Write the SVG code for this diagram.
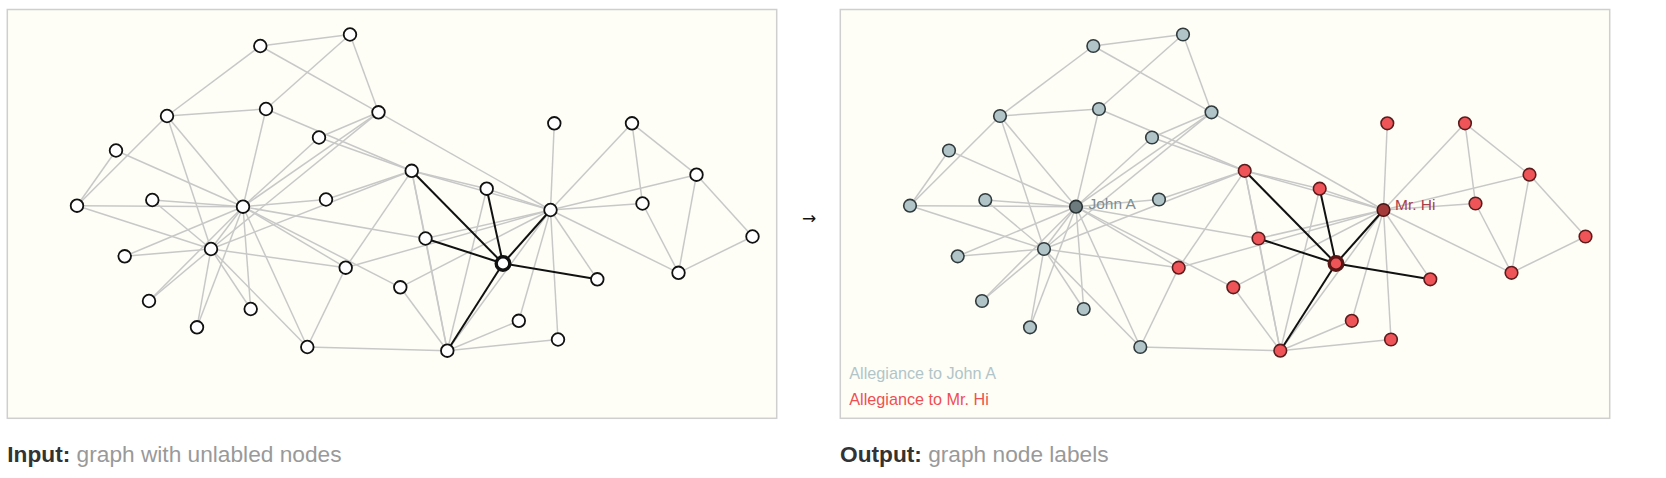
<svg xmlns="http://www.w3.org/2000/svg" width="1666" height="478" viewBox="0 0 1666 478">
<style>
.panel{fill:#fefef7;stroke:#cfcfcf;stroke-width:1.5}
.e line{stroke:#c8c8c8;stroke-width:1.5}
.e line.b{stroke:#111;stroke-width:2}
.in circle{fill:#fff;stroke:#111;stroke-width:1.8}
.in .hl circle{stroke-width:3.4}
.out .blue circle{fill:#b1c5c9;stroke:#313b3d;stroke-width:1.6}
.out .john circle{fill:#6d7b7e;stroke:#2a3234;stroke-width:1.6}
.out .red circle{fill:#ef5558;stroke:#5a1d1d;stroke-width:1.6}
.out .hi circle{fill:#a53a3b;stroke:#4a1515;stroke-width:1.6}
.out .red.hl circle{stroke:#5a1515;stroke-width:3.4}
text{font-family:"Liberation Sans",Arial,sans-serif}
.cap{font-size:22.7px;fill:#999}
.cap tspan.k{font-weight:bold;fill:#333}
.lbl{font-size:15.5px}
.leg{font-size:16.2px}
</style>
<rect class="panel" x="7.3" y="9.5" width="769.4" height="408.8"/>
<rect class="panel" x="840.3" y="9.5" width="769.4" height="408.8"/>
<text x="809" y="224" font-size="17" text-anchor="middle" fill="#111" style="font-family:'DejaVu Sans',sans-serif">→</text>

<g id="input-panel" class="in">
<g id="in-connectors" class="e">
<line x1="550.5" y1="210" x2="447.3" y2="350.7"/>
<line x1="550.5" y1="210" x2="411.7" y2="170.8"/>
<line x1="550.5" y1="210" x2="632" y2="123.3"/>
<line x1="550.5" y1="210" x2="678.5" y2="272.8"/>
<line x1="550.5" y1="210" x2="696.5" y2="174.7"/>
<line x1="550.5" y1="210" x2="642.5" y2="203.5"/>
<line x1="550.5" y1="210" x2="486.7" y2="188.7"/>
<line x1="550.5" y1="210" x2="345.7" y2="267.7"/>
<line x1="550.5" y1="210" x2="554.3" y2="123.3"/>
<line x1="550.5" y1="210" x2="597.3" y2="279.3"/>
<line x1="550.5" y1="210" x2="425.5" y2="238.5"/>
<line x1="550.5" y1="210" x2="518.8" y2="320.8"/>
<line x1="550.5" y1="210" x2="400.3" y2="287.3"/>
<line x1="550.5" y1="210" x2="558" y2="339.5"/>
<line x1="550.5" y1="210" x2="378.5" y2="112.3"/>
<line x1="447.3" y1="350.7" x2="411.7" y2="170.8"/>
<line x1="447.3" y1="350.7" x2="486.7" y2="188.7"/>
<line x1="447.3" y1="350.7" x2="425.5" y2="238.5"/>
<line x1="447.3" y1="350.7" x2="518.8" y2="320.8"/>
<line x1="447.3" y1="350.7" x2="400.3" y2="287.3"/>
<line x1="447.3" y1="350.7" x2="558" y2="339.5"/>
<line x1="447.3" y1="350.7" x2="307.3" y2="347"/>
<line x1="411.7" y1="170.8" x2="486.7" y2="188.7"/>
<line x1="411.7" y1="170.8" x2="345.7" y2="267.7"/>
<line x1="411.7" y1="170.8" x2="326" y2="199.5"/>
<line x1="411.7" y1="170.8" x2="425.5" y2="238.5"/>
<line x1="411.7" y1="170.8" x2="266" y2="109"/>
<line x1="411.7" y1="170.8" x2="319" y2="137.5"/>
<line x1="411.7" y1="170.8" x2="211" y2="249"/>
<line x1="425.5" y1="238.5" x2="243" y2="206.7"/>
<line x1="632" y1="123.3" x2="696.5" y2="174.7"/>
<line x1="632" y1="123.3" x2="642.5" y2="203.5"/>
<line x1="696.5" y1="174.7" x2="678.5" y2="272.8"/>
<line x1="696.5" y1="174.7" x2="752.5" y2="236.5"/>
<line x1="642.5" y1="203.5" x2="678.5" y2="272.8"/>
<line x1="678.5" y1="272.8" x2="752.5" y2="236.5"/>
<line x1="345.7" y1="267.7" x2="307.3" y2="347"/>
<line x1="345.7" y1="267.7" x2="211" y2="249"/>
<line x1="345.7" y1="267.7" x2="243" y2="206.7"/>
<line x1="400.3" y1="287.3" x2="243" y2="206.7"/>
<line x1="378.5" y1="112.3" x2="350" y2="34.5"/>
<line x1="378.5" y1="112.3" x2="260.3" y2="46"/>
<line x1="378.5" y1="112.3" x2="319" y2="137.5"/>
<line x1="378.5" y1="112.3" x2="211" y2="249"/>
<line x1="378.5" y1="112.3" x2="243" y2="206.7"/>
<line x1="350" y1="34.5" x2="260.3" y2="46"/>
<line x1="350" y1="34.5" x2="266" y2="109"/>
<line x1="260.3" y1="46" x2="167" y2="116"/>
<line x1="167" y1="116" x2="266" y2="109"/>
<line x1="167" y1="116" x2="77" y2="205.7"/>
<line x1="167" y1="116" x2="211" y2="249"/>
<line x1="167" y1="116" x2="243" y2="206.7"/>
<line x1="266" y1="109" x2="243" y2="206.7"/>
<line x1="319" y1="137.5" x2="243" y2="206.7"/>
<line x1="77" y1="205.7" x2="116" y2="150.5"/>
<line x1="77" y1="205.7" x2="211" y2="249"/>
<line x1="77" y1="205.7" x2="243" y2="206.7"/>
<line x1="116" y1="150.5" x2="243" y2="206.7"/>
<line x1="326" y1="199.5" x2="243" y2="206.7"/>
<line x1="307.3" y1="347" x2="211" y2="249"/>
<line x1="307.3" y1="347" x2="243" y2="206.7"/>
<line x1="152.3" y1="200" x2="211" y2="249"/>
<line x1="152.3" y1="200" x2="243" y2="206.7"/>
<line x1="124.7" y1="256.3" x2="211" y2="249"/>
<line x1="124.7" y1="256.3" x2="243" y2="206.7"/>
<line x1="149" y1="301" x2="211" y2="249"/>
<line x1="149" y1="301" x2="243" y2="206.7"/>
<line x1="250.7" y1="309" x2="211" y2="249"/>
<line x1="250.7" y1="309" x2="243" y2="206.7"/>
<line x1="197" y1="327.3" x2="211" y2="249"/>
<line x1="197" y1="327.3" x2="243" y2="206.7"/>
<line x1="211" y1="249" x2="243" y2="206.7"/>
<line class="b" x1="503" y1="263.5" x2="550.5" y2="210"/>
<line class="b" x1="503" y1="263.5" x2="447.3" y2="350.7"/>
<line class="b" x1="503" y1="263.5" x2="411.7" y2="170.8"/>
<line class="b" x1="503" y1="263.5" x2="486.7" y2="188.7"/>
<line class="b" x1="503" y1="263.5" x2="597.3" y2="279.3"/>
<line class="b" x1="503" y1="263.5" x2="425.5" y2="238.5"/>
</g>
<g id="in-n24"><circle cx="350" cy="34.5" r="6.3"/></g>
<g id="in-n25"><circle cx="260.3" cy="46" r="6.3"/></g>
<g id="in-n23"><circle cx="167" cy="116" r="6.3"/></g>
<g id="in-n27"><circle cx="266" cy="109" r="6.3"/></g>
<g id="in-n31"><circle cx="378.5" cy="112.3" r="6.3"/></g>
<g id="in-n26"><circle cx="116" cy="150.5" r="6.3"/></g>
<g id="in-n28"><circle cx="319" cy="137.5" r="6.3"/></g>
<g id="in-n2"><circle cx="411.7" cy="170.8" r="6.3"/></g>
<g id="in-n29"><circle cx="77" cy="205.7" r="6.3"/></g>
<g id="in-n14"><circle cx="152.3" cy="200" r="6.3"/></g>
<g id="in-n33"><circle cx="243" cy="206.7" r="6.3"/></g>
<g id="in-n9"><circle cx="326" cy="199.5" r="6.3"/></g>
<g id="in-n11"><circle cx="554.3" cy="123.3" r="6.3"/></g>
<g id="in-n4"><circle cx="632" cy="123.3" r="6.3"/></g>
<g id="in-n7"><circle cx="486.7" cy="188.7" r="6.3"/></g>
<g id="in-n0"><circle cx="550.5" cy="210" r="6.3"/></g>
<g id="in-n10"><circle cx="642.5" cy="203.5" r="6.3"/></g>
<g id="in-n6"><circle cx="696.5" cy="174.7" r="6.3"/></g>
<g id="in-n16"><circle cx="752.5" cy="236.5" r="6.3"/></g>
<g id="in-n13"><circle cx="425.5" cy="238.5" r="6.3"/></g>
<g id="in-n15"><circle cx="124.7" cy="256.3" r="6.3"/></g>
<g id="in-n32"><circle cx="211" cy="249" r="6.3"/></g>
<g id="in-n8"><circle cx="345.7" cy="267.7" r="6.3"/></g>
<g id="in-n19"><circle cx="400.3" cy="287.3" r="6.3"/></g>
<g id="in-n18"><circle cx="149" cy="301" r="6.3"/></g>
<g id="in-n20"><circle cx="250.7" cy="309" r="6.3"/></g>
<g id="in-n22"><circle cx="197" cy="327.3" r="6.3"/></g>
<g id="in-n30"><circle cx="307.3" cy="347" r="6.3"/></g>
<g id="in-n3" class="hl"><circle cx="503" cy="263.5" r="6.8"/></g>
<g id="in-n12"><circle cx="597.3" cy="279.3" r="6.3"/></g>
<g id="in-n5"><circle cx="678.5" cy="272.8" r="6.3"/></g>
<g id="in-n17"><circle cx="518.8" cy="320.8" r="6.3"/></g>
<g id="in-n21"><circle cx="558" cy="339.5" r="6.3"/></g>
<g id="in-n1"><circle cx="447.3" cy="350.7" r="6.3"/></g>
</g>

<g id="output-panel" class="out" transform="translate(833,0)">
<g id="out-connectors" class="e">
<line x1="550.5" y1="210" x2="447.3" y2="350.7"/>
<line x1="550.5" y1="210" x2="411.7" y2="170.8"/>
<line x1="550.5" y1="210" x2="632" y2="123.3"/>
<line x1="550.5" y1="210" x2="678.5" y2="272.8"/>
<line x1="550.5" y1="210" x2="696.5" y2="174.7"/>
<line x1="550.5" y1="210" x2="642.5" y2="203.5"/>
<line x1="550.5" y1="210" x2="486.7" y2="188.7"/>
<line x1="550.5" y1="210" x2="345.7" y2="267.7"/>
<line x1="550.5" y1="210" x2="554.3" y2="123.3"/>
<line x1="550.5" y1="210" x2="597.3" y2="279.3"/>
<line x1="550.5" y1="210" x2="425.5" y2="238.5"/>
<line x1="550.5" y1="210" x2="518.8" y2="320.8"/>
<line x1="550.5" y1="210" x2="400.3" y2="287.3"/>
<line x1="550.5" y1="210" x2="558" y2="339.5"/>
<line x1="550.5" y1="210" x2="378.5" y2="112.3"/>
<line x1="447.3" y1="350.7" x2="411.7" y2="170.8"/>
<line x1="447.3" y1="350.7" x2="486.7" y2="188.7"/>
<line x1="447.3" y1="350.7" x2="425.5" y2="238.5"/>
<line x1="447.3" y1="350.7" x2="518.8" y2="320.8"/>
<line x1="447.3" y1="350.7" x2="400.3" y2="287.3"/>
<line x1="447.3" y1="350.7" x2="558" y2="339.5"/>
<line x1="447.3" y1="350.7" x2="307.3" y2="347"/>
<line x1="411.7" y1="170.8" x2="486.7" y2="188.7"/>
<line x1="411.7" y1="170.8" x2="345.7" y2="267.7"/>
<line x1="411.7" y1="170.8" x2="326" y2="199.5"/>
<line x1="411.7" y1="170.8" x2="425.5" y2="238.5"/>
<line x1="411.7" y1="170.8" x2="266" y2="109"/>
<line x1="411.7" y1="170.8" x2="319" y2="137.5"/>
<line x1="411.7" y1="170.8" x2="211" y2="249"/>
<line x1="425.5" y1="238.5" x2="243" y2="206.7"/>
<line x1="632" y1="123.3" x2="696.5" y2="174.7"/>
<line x1="632" y1="123.3" x2="642.5" y2="203.5"/>
<line x1="696.5" y1="174.7" x2="678.5" y2="272.8"/>
<line x1="696.5" y1="174.7" x2="752.5" y2="236.5"/>
<line x1="642.5" y1="203.5" x2="678.5" y2="272.8"/>
<line x1="678.5" y1="272.8" x2="752.5" y2="236.5"/>
<line x1="345.7" y1="267.7" x2="307.3" y2="347"/>
<line x1="345.7" y1="267.7" x2="211" y2="249"/>
<line x1="345.7" y1="267.7" x2="243" y2="206.7"/>
<line x1="400.3" y1="287.3" x2="243" y2="206.7"/>
<line x1="378.5" y1="112.3" x2="350" y2="34.5"/>
<line x1="378.5" y1="112.3" x2="260.3" y2="46"/>
<line x1="378.5" y1="112.3" x2="319" y2="137.5"/>
<line x1="378.5" y1="112.3" x2="211" y2="249"/>
<line x1="378.5" y1="112.3" x2="243" y2="206.7"/>
<line x1="350" y1="34.5" x2="260.3" y2="46"/>
<line x1="350" y1="34.5" x2="266" y2="109"/>
<line x1="260.3" y1="46" x2="167" y2="116"/>
<line x1="167" y1="116" x2="266" y2="109"/>
<line x1="167" y1="116" x2="77" y2="205.7"/>
<line x1="167" y1="116" x2="211" y2="249"/>
<line x1="167" y1="116" x2="243" y2="206.7"/>
<line x1="266" y1="109" x2="243" y2="206.7"/>
<line x1="319" y1="137.5" x2="243" y2="206.7"/>
<line x1="77" y1="205.7" x2="116" y2="150.5"/>
<line x1="77" y1="205.7" x2="211" y2="249"/>
<line x1="77" y1="205.7" x2="243" y2="206.7"/>
<line x1="116" y1="150.5" x2="243" y2="206.7"/>
<line x1="326" y1="199.5" x2="243" y2="206.7"/>
<line x1="307.3" y1="347" x2="211" y2="249"/>
<line x1="307.3" y1="347" x2="243" y2="206.7"/>
<line x1="152.3" y1="200" x2="211" y2="249"/>
<line x1="152.3" y1="200" x2="243" y2="206.7"/>
<line x1="124.7" y1="256.3" x2="211" y2="249"/>
<line x1="124.7" y1="256.3" x2="243" y2="206.7"/>
<line x1="149" y1="301" x2="211" y2="249"/>
<line x1="149" y1="301" x2="243" y2="206.7"/>
<line x1="250.7" y1="309" x2="211" y2="249"/>
<line x1="250.7" y1="309" x2="243" y2="206.7"/>
<line x1="197" y1="327.3" x2="211" y2="249"/>
<line x1="197" y1="327.3" x2="243" y2="206.7"/>
<line x1="211" y1="249" x2="243" y2="206.7"/>
<line class="b" x1="503" y1="263.5" x2="550.5" y2="210"/>
<line class="b" x1="503" y1="263.5" x2="447.3" y2="350.7"/>
<line class="b" x1="503" y1="263.5" x2="411.7" y2="170.8"/>
<line class="b" x1="503" y1="263.5" x2="486.7" y2="188.7"/>
<line class="b" x1="503" y1="263.5" x2="597.3" y2="279.3"/>
<line class="b" x1="503" y1="263.5" x2="425.5" y2="238.5"/>
</g>
<g id="out-n24" class="blue"><circle cx="350" cy="34.5" r="6.3"/></g>
<g id="out-n25" class="blue"><circle cx="260.3" cy="46" r="6.3"/></g>
<g id="out-n23" class="blue"><circle cx="167" cy="116" r="6.3"/></g>
<g id="out-n27" class="blue"><circle cx="266" cy="109" r="6.3"/></g>
<g id="out-n31" class="blue"><circle cx="378.5" cy="112.3" r="6.3"/></g>
<g id="out-n26" class="blue"><circle cx="116" cy="150.5" r="6.3"/></g>
<g id="out-n28" class="blue"><circle cx="319" cy="137.5" r="6.3"/></g>
<g id="out-n2" class="red"><circle cx="411.7" cy="170.8" r="6.3"/></g>
<g id="out-n29" class="blue"><circle cx="77" cy="205.7" r="6.3"/></g>
<g id="out-n14" class="blue"><circle cx="152.3" cy="200" r="6.3"/></g>
<g id="out-n33" class="john"><circle cx="243" cy="206.7" r="6.3"/><text class="lbl" x="255.5" y="208.5" fill="#7f8d92">John A</text></g>
<g id="out-n9" class="blue"><circle cx="326" cy="199.5" r="6.3"/></g>
<g id="out-n11" class="red"><circle cx="554.3" cy="123.3" r="6.3"/></g>
<g id="out-n4" class="red"><circle cx="632" cy="123.3" r="6.3"/></g>
<g id="out-n7" class="red"><circle cx="486.7" cy="188.7" r="6.3"/></g>
<g id="out-n0" class="hi"><circle cx="550.5" cy="210" r="6.3"/><text class="lbl" x="562" y="210" fill="#a8404a">Mr. Hi</text></g>
<g id="out-n10" class="red"><circle cx="642.5" cy="203.5" r="6.3"/></g>
<g id="out-n6" class="red"><circle cx="696.5" cy="174.7" r="6.3"/></g>
<g id="out-n16" class="red"><circle cx="752.5" cy="236.5" r="6.3"/></g>
<g id="out-n13" class="red"><circle cx="425.5" cy="238.5" r="6.3"/></g>
<g id="out-n15" class="blue"><circle cx="124.7" cy="256.3" r="6.3"/></g>
<g id="out-n32" class="blue"><circle cx="211" cy="249" r="6.3"/></g>
<g id="out-n8" class="red"><circle cx="345.7" cy="267.7" r="6.3"/></g>
<g id="out-n19" class="red"><circle cx="400.3" cy="287.3" r="6.3"/></g>
<g id="out-n18" class="blue"><circle cx="149" cy="301" r="6.3"/></g>
<g id="out-n20" class="blue"><circle cx="250.7" cy="309" r="6.3"/></g>
<g id="out-n22" class="blue"><circle cx="197" cy="327.3" r="6.3"/></g>
<g id="out-n30" class="blue"><circle cx="307.3" cy="347" r="6.3"/></g>
<g id="out-n3" class="red hl"><circle cx="503" cy="263.5" r="6.8"/></g>
<g id="out-n12" class="red"><circle cx="597.3" cy="279.3" r="6.3"/></g>
<g id="out-n5" class="red"><circle cx="678.5" cy="272.8" r="6.3"/></g>
<g id="out-n17" class="red"><circle cx="518.8" cy="320.8" r="6.3"/></g>
<g id="out-n21" class="red"><circle cx="558" cy="339.5" r="6.3"/></g>
<g id="out-n1" class="red"><circle cx="447.3" cy="350.7" r="6.3"/></g>
<g id="legend">
<text class="leg" x="16.3" y="379.3" fill="#b1c5c9">Allegiance to John A</text>
<text class="leg" x="16.3" y="404.5" fill="#ef4f52">Allegiance to Mr. Hi</text>
</g>
</g>

<text class="cap" x="7.3" y="462.3"><tspan class="k">Input:</tspan> graph with unlabled nodes</text>
<text class="cap" x="840" y="462.3"><tspan class="k">Output:</tspan> graph node labels</text>
</svg>
